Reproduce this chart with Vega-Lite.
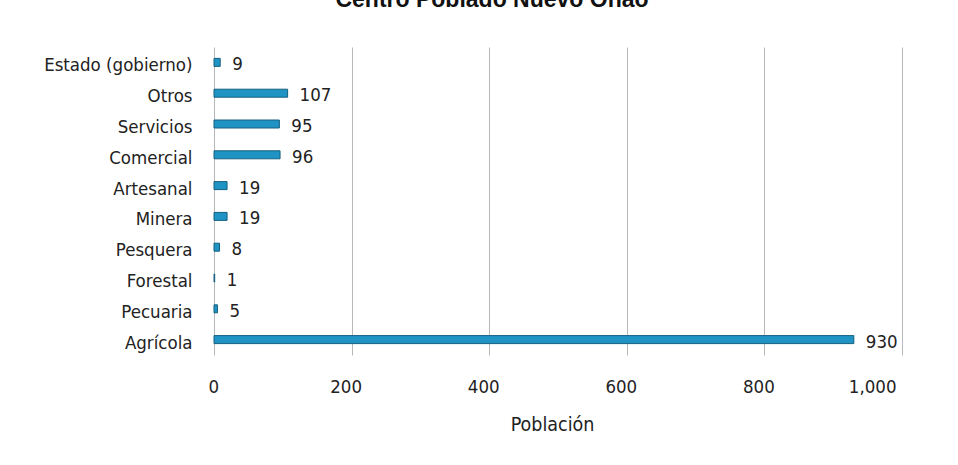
{
  "$schema": "https://vega.github.io/schema/vega-lite/v6.json",
  "width": 688,
  "height": 308,
  "autosize": "none",
  "padding": {"left": 214, "top": 47, "right": 56, "bottom": 110},
  "background": "white",
  "title": {"text": "Centro Poblado Nuevo Oñao", "fontSize": 23, "font": "Liberation Sans", "fontWeight": "bold", "color": "#111", "offset": 35, "anchor": "middle", "dx": -66},
  "data": {"values": [
    {"actividad": "Estado (gobierno)", "poblacion": 9},
    {"actividad": "Otros", "poblacion": 107},
    {"actividad": "Servicios", "poblacion": 95},
    {"actividad": "Comercial", "poblacion": 96},
    {"actividad": "Artesanal", "poblacion": 19},
    {"actividad": "Minera", "poblacion": 19},
    {"actividad": "Pesquera", "poblacion": 8},
    {"actividad": "Forestal", "poblacion": 1},
    {"actividad": "Pecuaria", "poblacion": 5},
    {"actividad": "Agrícola", "poblacion": 930}
  ]},
  "encoding": {
    "y": {"field": "actividad", "type": "nominal", "sort": null, "scale": {"paddingInner": 0, "paddingOuter": 0},
      "axis": {"title": null, "domain": false, "ticks": false, "grid": false, "labelPadding": 22, "labelFontSize": 18.5, "labelFont": "Liberation Sans Narrow, DejaVu Sans Condensed, Liberation Sans", "labelColor": "#222", "labelOffset": 3}},
    "x": {"field": "poblacion", "type": "quantitative", "scale": {"domain": [0, 1000], "nice": false},
      "axis": {"title": "Población", "values": [0, 200, 400, 600, 800, 1000], "format": ",.0f", "domain": false, "ticks": false, "grid": true, "gridColor": "#b8b8b8", "labelPadding": 22, "labelOffset": -6, "labelFontSize": 18.5, "labelFont": "Liberation Sans Narrow, DejaVu Sans Condensed, Liberation Sans", "labelColor": "#222", "titleFontSize": 19.5, "titleFont": "Liberation Sans Narrow, DejaVu Sans Condensed, Liberation Sans", "titleFontWeight": "normal", "titleColor": "#222", "titlePadding": 20, "titleX": 338}}
  },
  "layer": [
    {"mark": {"type": "bar", "size": 8, "color": "#1f93c4", "stroke": "#16607f", "strokeWidth": 1}},
    {"mark": {"type": "text", "align": "left", "dx": 12, "dy": 2, "fontSize": 18.5, "font": "Liberation Sans Narrow, DejaVu Sans Condensed, Liberation Sans", "color": "#222"},
      "encoding": {"text": {"field": "poblacion", "type": "quantitative"}}}
  ],
  "config": {"view": {"stroke": null}}
}
